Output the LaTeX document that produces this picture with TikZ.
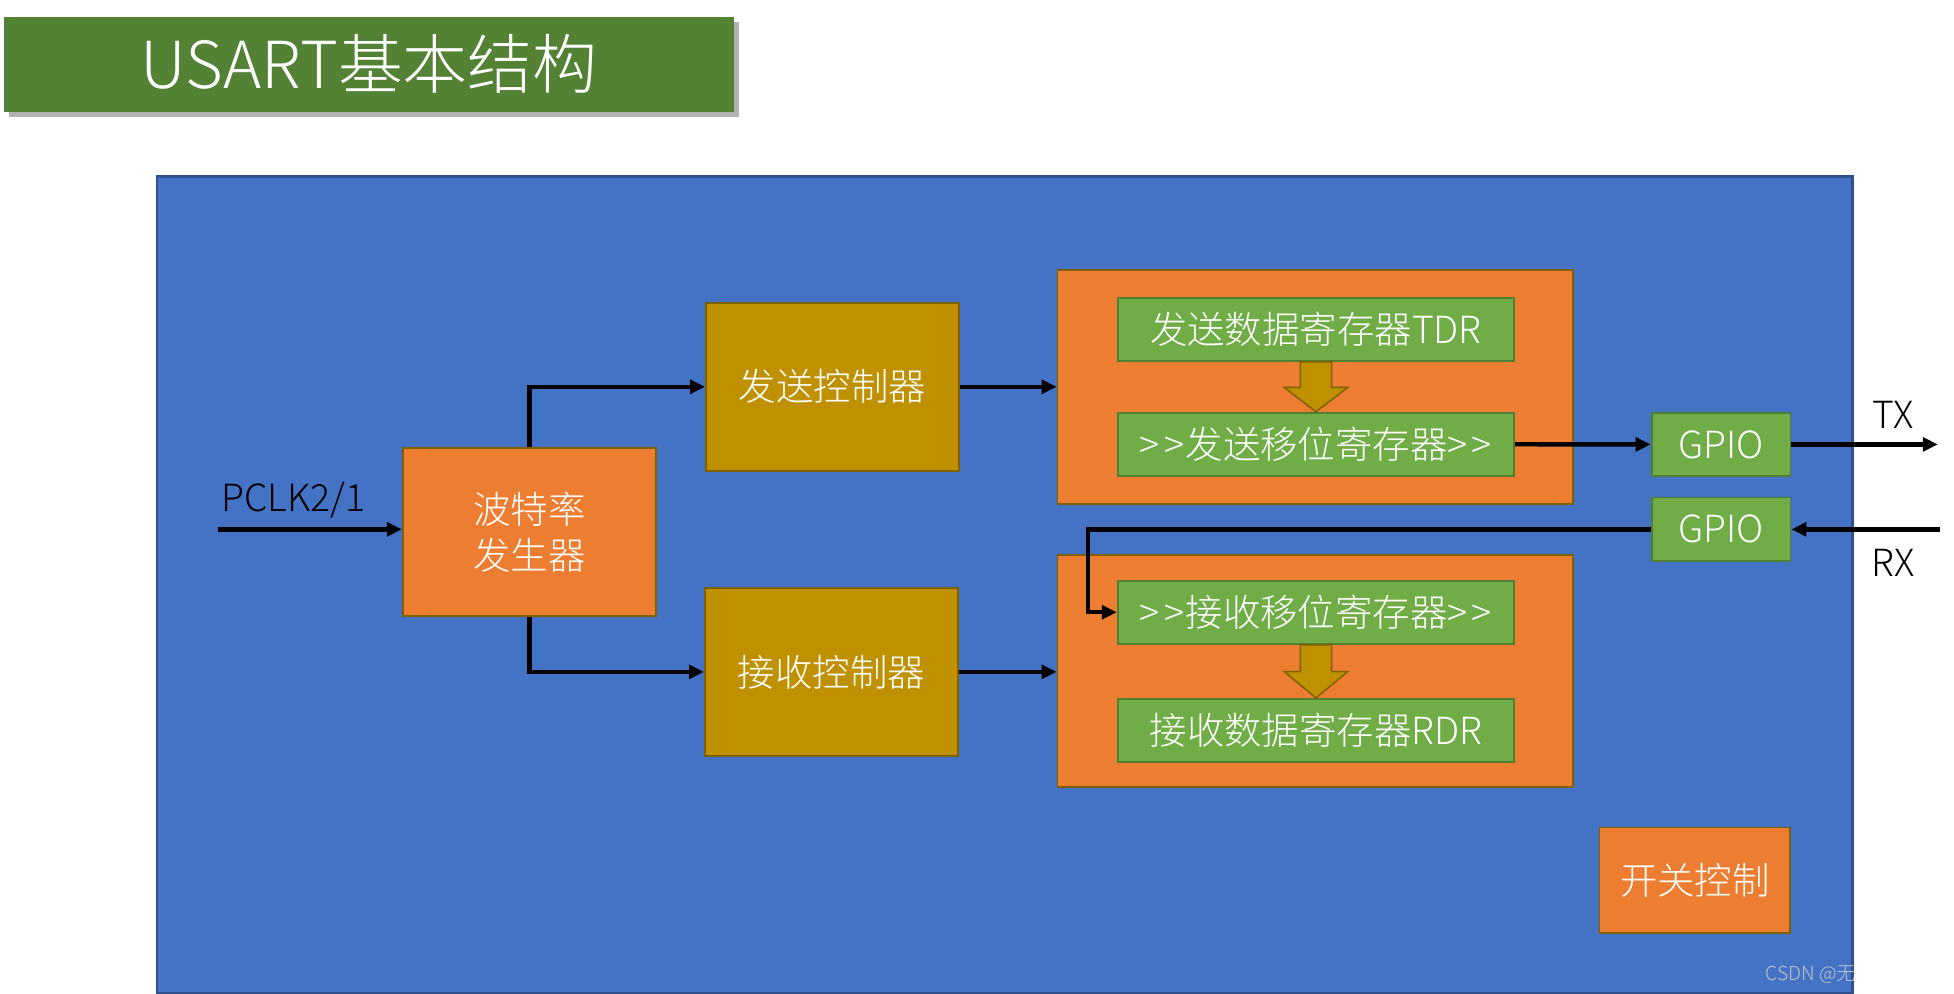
\documentclass[tikz,border=0pt]{standalone}
\usepackage{fontspec}
\setmainfont{Noto Sans CJK SC}[UprightFont={* Light}]
\usetikzlibrary{arrows.meta,shadows,calc}
\definecolor{chipblue}{HTML}{4472C4}
\definecolor{chipedge}{HTML}{2F528F}
\definecolor{orangeC}{HTML}{ED7D31}
\definecolor{goldC}{HTML}{BF9000}
\definecolor{brownC}{HTML}{7F6000}
\definecolor{greenC}{HTML}{70AD47}
\definecolor{greenD}{HTML}{507E32}
\definecolor{titleC}{HTML}{548235}
\definecolor{wmC}{HTML}{BFC4CC}
\begin{document}
\begin{tikzpicture}[x=1pt,y=-1pt,
  boxtext/.style={text=white,font=\fontsize{30}{37}\selectfont,align=center,inner sep=0pt},
  orangebox/.style={boxtext,fill=orangeC,draw=brownC,line width=1.5pt},
  goldbox/.style={boxtext,fill=goldC,draw=brownC,line width=1.5pt,minimum width=203pt,minimum height=135pt},
  greenbox/.style={boxtext,fill=greenC,draw=greenD,line width=1.5pt,minimum width=318pt,minimum height=50.8pt},
  gpiobox/.style={boxtext,fill=greenC,draw=greenD,line width=1.5pt,minimum width=111.4pt,minimum height=51pt},
  conn/.style={line width=3.5pt,-{Triangle[length=12pt,width=11pt]}},
  blockarrow/.style={fill=goldC,draw=brownC,line width=1.2pt,line join=miter},
  label/.style={text=black,font=\fontsize{30}{36}\selectfont,inner sep=0pt}]
\useasboundingbox (0,0) rectangle (1567,797);

% title
\node[fill=titleC,minimum width=586pt,minimum height=76pt,inner sep=0pt,
  drop shadow={shadow xshift=4pt,shadow yshift=-4pt,fill=black,opacity=0.3},
  text=white,font=\fontsize{52}{60}\selectfont] (title) at (296,51.5) {USART基本结构};

% chip background
\node[fill=chipblue,draw=chipedge,line width=2pt,minimum width=1359.5pt,minimum height=655pt,
  inner sep=0pt,anchor=north west] (chip) at (125,140.5) {};

% blocks
\node[orangebox,minimum width=203pt,minimum height=135pt] (baud) at (424.5,426.5) {波特率\\发生器};
\node[goldbox] (send) at (667.6,310.2) {发送控制器};
\node[goldbox] (recv) at (666.8,538.8) {接收控制器};

\node[orangebox,minimum width=413.5pt,minimum height=187.5pt] (txblk) at (1054.8,310.2) {};
\node[orangebox,minimum width=413.5pt,minimum height=186.4pt] (rxblk) at (1054.8,538.2) {};

\node[greenbox] (tdr) at (1055.3,264.1) {发送数据寄存器TDR};
\node[greenbox] (tsr) at (1055.3,356.3) {>\kern3.5pt>\kern1pt 发送移位寄存器>\kern3.5pt>};
\node[greenbox] (rsr) at (1055.3,491) {>\kern3.5pt>\kern1pt 接收移位寄存器>\kern3.5pt>};
\node[greenbox] (rdr) at (1055.3,585.9) {接收数据寄存器RDR};

\node[gpiobox] (gpiotx) at (1380.2,356.4) {GPIO};
\node[gpiobox] (gpiorx) at (1380.2,424.5) {GPIO};

\node[orangebox,minimum width=153pt,minimum height=84.3pt] (sw) at (1359.2,705.8) {开关控制};

% block arrows between registers
\draw[blockarrow] ($(tdr.south)+(-12.5,0)$) -- ($(tdr.south)+(12.5,0)$) -- ($(tdr.south)+(12.5,20.5)$)
  -- ($(tdr.south)+(25.5,20.5)$) -- (tsr.north) -- ($(tdr.south)+(-25.5,20.5)$)
  -- ($(tdr.south)+(-12.5,20.5)$) -- cycle;
\draw[blockarrow] ($(rsr.south)+(-12.5,0)$) -- ($(rsr.south)+(12.5,0)$) -- ($(rsr.south)+(12.5,21.4)$)
  -- ($(rsr.south)+(25.5,21.4)$) -- (rdr.north) -- ($(rsr.south)+(-25.5,21.4)$)
  -- ($(rsr.south)+(-12.5,21.4)$) -- cycle;

% external coordinates
\coordinate (pclk) at (175,424.5);
\coordinate (txend) at (1554,356.4);
\coordinate (rxstart) at (1556,424.5);
\coordinate (rxturn) at (872.7,424.5);

% connectors
\draw[conn] (pclk) -- (pclk -| baud.west);
\draw[conn] (baud.north) |- (send.west);
\draw[conn] (baud.south) |- (recv.west);
\draw[conn] (send.east) -- (send.east -| txblk.west);
\draw[conn] (recv.east) -- (recv.east -| rxblk.west);
\draw[conn] (tsr.east) -- (gpiotx.west);
\draw[conn] (gpiotx.east) -- (txend);
\draw[conn] (rxstart) -- (gpiorx.east);
\draw[conn] (gpiorx.west) -- (rxturn) |- (rsr.west);

% labels
\node[label] (pclklbl) at (235.3,401) {PCLK2/1};
\node[label] (txlbl) at (1518,332.8) {TX};
\node[label] (rxlbl) at (1518,451.7) {RX};

% watermark
\begin{scope}
  \clip (chip.north west) rectangle (chip.south east);
  \node[anchor=west,inner sep=0pt,text=wmC,font=\fontsize{15.5}{18}\selectfont] (wm) at (1415.5,782) {CSDN @无};
\end{scope}
\end{tikzpicture}
\end{document}
